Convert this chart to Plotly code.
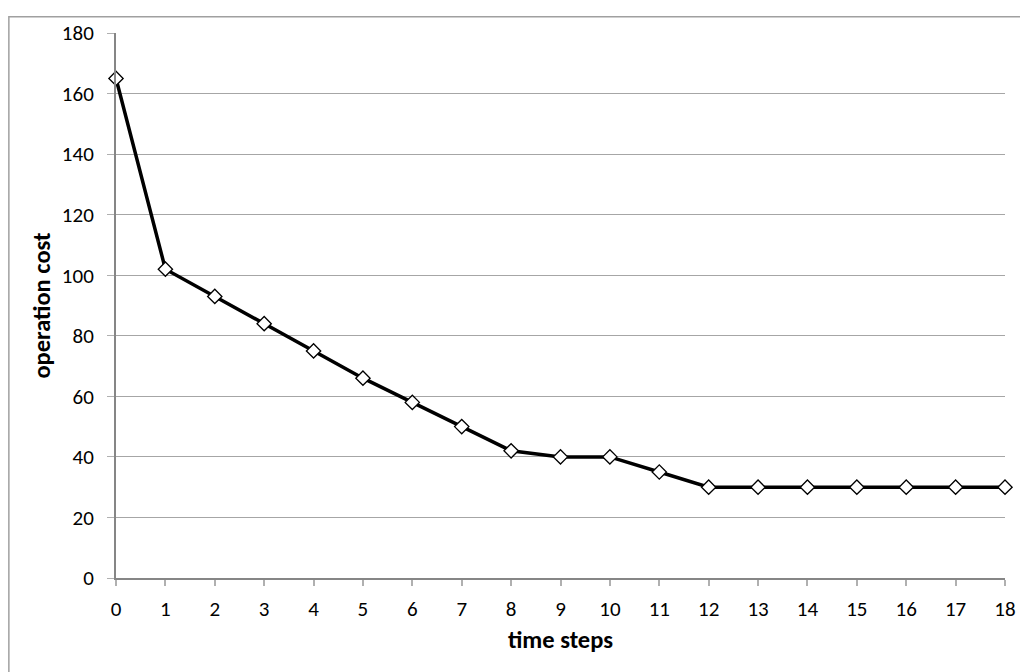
import plotly.graph_objects as go

time_steps = list(range(19))
operation_cost = [165, 102, 93, 84, 75, 66, 58, 50, 42, 40, 40, 35, 30, 30, 30, 30, 30, 30, 30]
x_ticks = list(range(19))
y_ticks = list(range(0, 181, 20))

OFF = 8  # page body margin in browser
W, H = 1028 - OFF, 672 - OFF
L, R, T, B = 116 - OFF, 1008 - OFF, 25 - OFF, 578 - OFF

def px_x(p):
    return (p - OFF - L) / (R - L)

def px_y(p):
    return (B - (p - OFF)) / (B - T)

fig = go.Figure()
fig.add_trace(go.Scatter(
    x=time_steps, y=operation_cost, mode="lines+markers",
    line=dict(color="black", width=3.5),
    marker=dict(symbol="diamond", size=11, color="white", line=dict(color="black", width=1.3)),
    cliponaxis=False, showlegend=False,
))

font = "Carlito, Calibri, 'Open Sans', sans-serif"
fig.update_layout(
    width=W, height=H,
    margin=dict(l=L, r=W - R, t=T, b=H - B),
    paper_bgcolor="white", plot_bgcolor="white",
    font=dict(family=font, size=21, color="black"),
    xaxis=dict(
        range=[0, 18], tickvals=x_ticks, showgrid=False, zeroline=False,
        showline=True, linecolor="#868686", linewidth=2,
        ticks="outside", ticklen=6, tickcolor="#B0B0B0", tickwidth=2,
        tickfont=dict(size=21), ticklabelstandoff=5,
        title=dict(text="<b>time steps</b>", font=dict(size=24.5), standoff=10),
    ),
    yaxis=dict(
        range=[0, 180], tickvals=y_ticks, showgrid=True, gridcolor="#A6A6A6", gridwidth=1,
        zeroline=False, showline=True, linecolor="#868686", linewidth=2,
        ticks="outside", ticklen=7, tickcolor="#B0B0B0", tickwidth=1,
        tickfont=dict(size=21), ticklabelstandoff=9,
        title=dict(text="<b>operation cost</b>", font=dict(size=24.5), standoff=4),
    ),
    shapes=[dict(type="rect", xref="paper", yref="paper",
                 x0=px_x(8.5), x1=px_x(1080), y0=px_y(720), y1=px_y(8.5),
                 line=dict(color="#A0A0A0", width=1.5), layer="below")],
)

fig.write_html("out.html")
